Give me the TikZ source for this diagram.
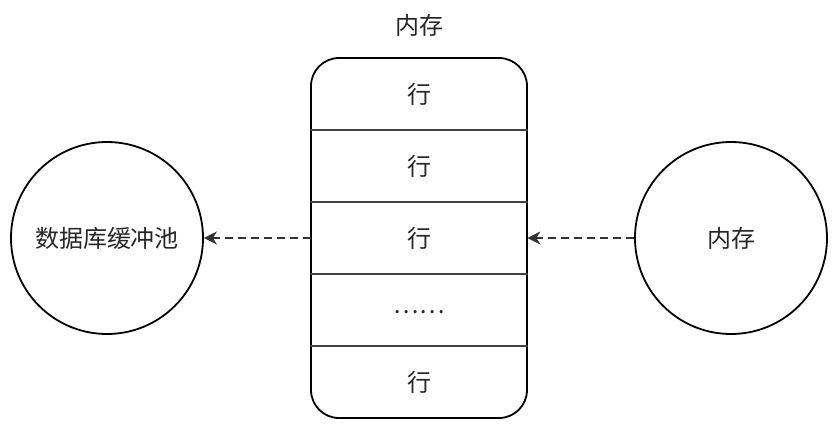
\documentclass[tikz,border=0pt]{standalone}
\usepackage{fontspec}
\setmainfont{Noto Sans CJK SC}
\usetikzlibrary{arrows.meta}
\usetikzlibrary{calc}

\begin{document}
\begin{tikzpicture}[x=0.5pt, y=-0.5pt, font=\fontsize{12pt}{14pt}\selectfont,
        pool_style/.style={circle,draw=black,line width=0.9pt,minimum size=96pt,inner sep=0pt,text=black!85},
        box_style/.style={rectangle,draw=black,line width=0.9pt,rounded corners=14pt,minimum width=108pt,minimum height=180pt,inner sep=0pt},
        row_style/.style={rectangle,minimum width=108pt,minimum height=36pt,inner sep=0pt,text=black!85},
        sep_style/.style={draw=black!75, line width=1pt},
        edge_style/.style={draw=black!80, line width=1pt, dash pattern=on 4pt off 2.5pt,
            -{Stealth[length=6.5pt,width=6.5pt,inset=2pt]}}]

        \useasboundingbox (0,0) rectangle (837,430);

        \node [text=black!85](title) at (419,25) {内存};

        \node [box_style](mem) at (419,238) {};

        \node [row_style](r1) at (419,94) {行};
    
        \node [row_style](r2) at (419,166) {行};
    
        \node [row_style](r3) at (419,238) {行};
    
        \node [row_style](r4) at (419,312) {……};
    
        \node [row_style](r5) at (419,382) {行};

        \node [pool_style](pool) at (107,238) {数据库缓冲池};
    
        \node [pool_style](src) at (731,238) {内存};

        \foreach \a/\y in {r1/130,r2/202,r3/274,r5/346}
            \draw [sep_style] (mem.west |- 0,\y) -- (mem.east |- 0,\y);

        \draw [edge_style] (r3.west) -- (pool.east);
    
        \draw [edge_style] (src.west) -- (r3.east);
    
        \end{tikzpicture}
\end{document}
